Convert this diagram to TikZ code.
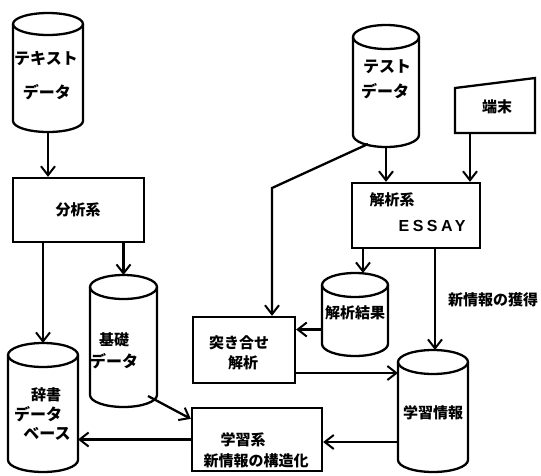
\documentclass[tikz,border=0pt]{standalone}
\usepackage{fontspec}
\newfontfamily\jp{Noto Sans CJK JP}
\newfontfamily\lat[LetterSpace=22]{Liberation Sans}
\usetikzlibrary{arrows.meta,calc}
\tikzset{
  ln/.style={line width=2.3pt},
  arr/.style={ln,-{Straight Barb[length=9pt,width=14pt,line width=2pt]}},
  boxnode/.style={draw,line width=2.3pt,inner sep=0pt},
  lbl/.style={font=\jp\bfseries\fontsize{15}{15}\selectfont,inner sep=0pt},
  klbl/.style={font=\jp\bfseries\fontsize{16}{16}\selectfont,inner sep=0pt},
}
\newcommand\mkbox[5]{% name x1 x2 y1 y2
  \node[boxnode,minimum width={#3-#2},minimum height={#5-#4}] (#1) at ({(#2+#3)/2},{(#4+#5)/2}) {};}
\newcommand\mkcyl[6]{% name x1 x2 ytop ylow ry
  \node[inner sep=0pt,outer sep=0pt,minimum width={#3-#2},minimum height={#5-#4}] (#1) at ({(#2+#3)/2},{(#4+#5)/2}) {};
  \draw[ln] ({(#2+#3)/2},{#4+#6}) ellipse [x radius={(#3-#2)/2}, y radius=#6];
  \draw[ln] (#2,{#4+#6}) -- (#2,{#5-#6}) arc[start angle=180,end angle=0,x radius={(#3-#2)/2},y radius=#6] -- (#3,{#4+#6});}
\begin{document}
\begin{tikzpicture}[x=1pt,y=-1pt]
\useasboundingbox (0,0) rectangle (541,475);
% cylinders
\mkcyl{text}{13}{83}{13}{132}{11}
\mkcyl{test}{353}{419}{25}{147}{12}
\mkcyl{kiso}{90}{157}{275}{407}{12}
\mkcyl{jisho}{8}{78}{343}{472}{12}
\mkcyl{kekka}{322}{388}{273}{356}{12}
\mkcyl{gakushu}{398}{468}{350}{472}{12}
% boxes
\mkbox{bunseki}{13}{144}{178}{242}
\mkbox{essay}{352}{480}{183}{248}
\mkbox{tsuki}{193}{295}{317}{383}
\mkbox{gakukei}{192}{322}{408}{471}
\node[inner sep=0pt,minimum width=80,minimum height=55] (tanmatsu) at (495,105.5) {};
\draw[ln] (455,88) -- (535,78) -- (535,133) -- (455,133) -- cycle;
% texts
\node[klbl] (t1) at (46,58) {テキスト};
\node[klbl] (t2) at (47,92) {データ};
\node[klbl] (t3) at (387,67) {テスト};
\node[klbl] (t4) at (385,91) {データ};
\node[lbl] (t5) at (497,107) {端末};
\node[lbl] (t6) at (78,210) {分析系};
\node[lbl] (t7) at (392,200) {解析系};
\node[font=\lat\bfseries\fontsize{16}{16}\selectfont,inner sep=0pt] (t8) at (432,226) {ESSAY};
\node[lbl] (t9) at (114,340) {基礎};
\node[klbl] (t10) at (114,361) {データ};
\node[lbl] (t11) at (46,395) {辞書};
\node[klbl] (t12) at (38,414) {データ};
\node[klbl] (t13) at (47,434) {ベース};
\node[lbl] (t14) at (355,313) {解析結果};
\node[lbl] (t15) at (239,343) {突き合せ};
\node[lbl] (t16) at (243,363) {解析};
\node[lbl] (t17) at (433,413) {学習情報};
\node[lbl] (t18) at (243,440) {学習系};
\node[lbl] (t19) at (256,461) {新情報の構造化};
\node[lbl] (t20) at (493,300) {新情報の獲得};
% connector helper points
\coordinate (bend) at (272,188);
\coordinate (kA) at ($(kekka.west)+(0,15)$);
\coordinate (tA) at ($(tsuki.east)+(0,23)$);
\coordinate (gA) at ($(gakushu.west)+(0,31)$);
\coordinate (kisoOut) at ($(kiso.south east)+(-9,-11)$);
\coordinate (gkIn) at ($(gakukei.north west)+(0,12)$);
\coordinate (testOut) at ($(test.south)+(-18,-3)$);
% connectors
\draw[arr] (text.south) -- (text.south |- bunseki.north);
\draw[arr] (bunseki.south -| jisho.north) -- (jisho.north);
\draw[arr] (bunseki.south -| kiso.north) -- (kiso.north);
\draw[arr] (kisoOut) -- (gkIn);
\draw[arr] (gakukei.west) -- (gakukei.west -| jisho.east);
\draw[arr] (test.south) -- (test.south |- essay.north);
\draw[arr] (tanmatsu.south -| 470,0) -- (essay.north -| 470,0);
\draw[arr] (testOut) -- (bend) -- (bend |- tsuki.north);
\draw[arr] (essay.south -| 363,0) -- (kekka.north -| 363,0);
\draw[arr] (essay.south -| 435,0) -- (gakushu.north -| 435,0);
\draw[arr] (kA) -- (kA -| tsuki.east);
\draw[arr] (tA) -- (tA -| gakushu.west);
\draw[arr] (gA) -- (gA -| gakukei.east);
\end{tikzpicture}
\end{document}
